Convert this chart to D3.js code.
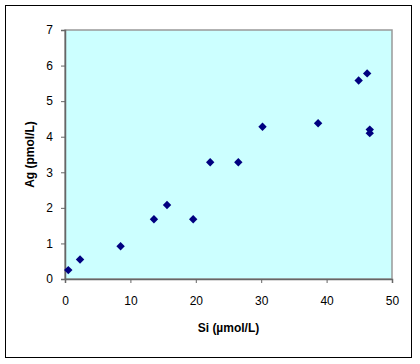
<!DOCTYPE html>
<html>
<head>
<meta charset="utf-8">
<script src="https://cdn.jsdelivr.net/npm/d3@7"></script>
<style>
body { margin: 0; background: #fff; }
</style>
</head>
<body>
<script>
var siValues = [0.5, 2.3, 8.5, 13.6, 15.6, 19.6, 22.2, 26.5, 30.2, 38.7, 44.9, 46.2, 46.6, 46.6];
var agValues = [0.25, 0.55, 0.92, 1.68, 2.08, 1.68, 3.28, 3.28, 4.28, 4.38, 5.58, 5.78, 4.2, 4.1];
var xTicks = [0, 10, 20, 30, 40, 50];
var yTicks = [0, 1, 2, 3, 4, 5, 6, 7];

var w = 420, h = 364;
var plotLeft = 65, plotTop = 30, plotRight = 392, plotBottom = 279;
var font = "Arial, 'Liberation Sans', sans-serif";

var svg = d3.select("body").append("svg").attr("width", w).attr("height", h);

// outer chart border
svg.append("rect")
    .attr("x", 5.5).attr("y", 5.5)
    .attr("width", 406).attr("height", 352)
    .attr("fill", "#fff")
    .attr("stroke", "#000")
    .attr("stroke-width", 1);

var x = d3.scaleLinear().domain([0, 50]).range([plotLeft, plotRight]);
var y = d3.scaleLinear().domain([0, 7]).range([plotBottom, plotTop]);

// plot area
svg.append("rect")
    .attr("x", plotLeft).attr("y", plotTop)
    .attr("width", plotRight - plotLeft).attr("height", plotBottom - plotTop)
    .attr("fill", "#ccffff")
    .attr("stroke", "#999")
    .attr("stroke-width", 1.5);

var xAxis = svg.append("g")
    .attr("transform", "translate(0," + plotBottom + ")")
    .call(d3.axisBottom(x).tickValues(xTicks).tickFormat(d3.format("d")).tickSize(4).tickPadding(13));

var yAxis = svg.append("g")
    .attr("transform", "translate(" + plotLeft + ",0)")
    .call(d3.axisLeft(y).tickValues(yTicks).tickFormat(d3.format("d")).tickSize(4).tickPadding(8));

[xAxis, yAxis].forEach(function(g) {
    g.select(".domain").attr("stroke", "#666").attr("stroke-width", 1.5);
    g.selectAll(".tick line").attr("stroke", "#666");
    g.selectAll("text")
        .attr("font-family", font)
        .attr("font-size", "12px")
        .attr("fill", "#000");
});

svg.selectAll("path.pt")
    .data(siValues)
    .enter()
    .append("path")
    .attr("class", "pt")
    .attr("d", d3.symbol().type(d3.symbolDiamond2).size(45))
    .attr("transform", function(d, i) {
        return "translate(" + x(d) + "," + y(agValues[i]) + ")";
    })
    .attr("fill", "#000080");

svg.append("text")
    .text("Si (µmol/L)")
    .attr("x", (plotLeft + plotRight) / 2)
    .attr("y", 332)
    .attr("text-anchor", "middle")
    .attr("font-family", font)
    .attr("font-weight", "bold")
    .attr("font-size", "12px");

svg.append("text")
    .text("Ag (pmol/L)")
    .attr("transform", "translate(34," + (plotTop + plotBottom) / 2 + ") rotate(-90)")
    .attr("text-anchor", "middle")
    .attr("font-family", font)
    .attr("font-weight", "bold")
    .attr("font-size", "12px");
</script>
</body>
</html>
